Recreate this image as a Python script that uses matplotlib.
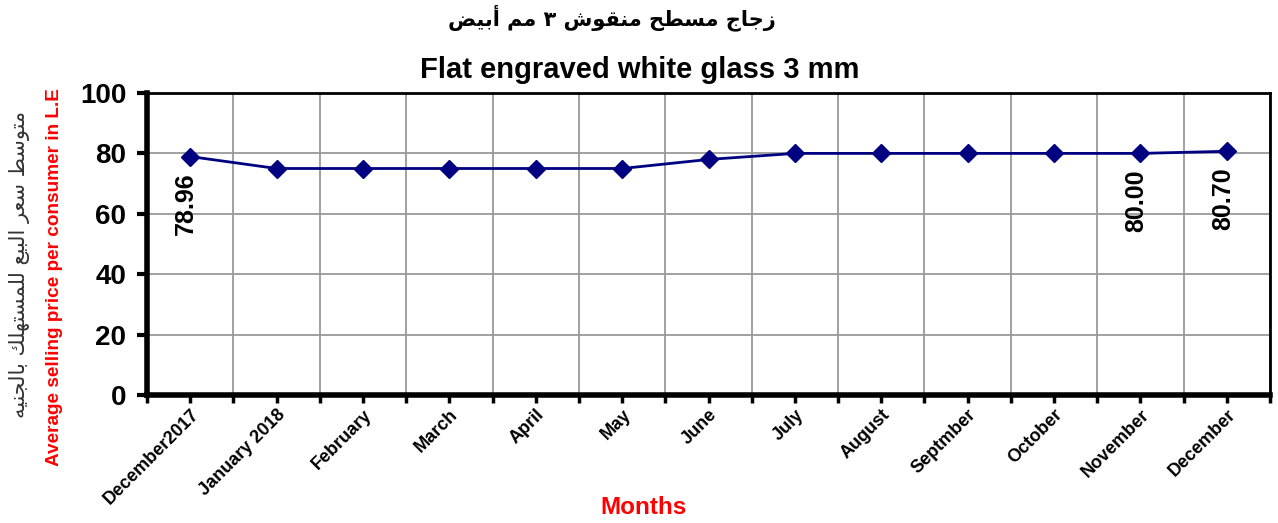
import matplotlib
matplotlib.use("Agg")
import matplotlib.pyplot as plt
from matplotlib.ticker import MultipleLocator, FixedLocator

# ---------------- data ----------------
months = ["December2017", "January 2018", "February", "March", "April", "May",
          "June", "July", "August", "Septmber", "October", "November", "December"]
prices = [78.96, 75, 75, 75, 75, 75, 78, 80, 80, 80, 80, 80, 80.70]
labelled_idx = [0, 11, 12]

title_ar = "زجاج مسطح منقوش ٣ مم أبيض"
title_en = "Flat engraved white glass 3 mm"
ylabel_en = "Average selling price per consumer in L.E"
ylabel_ar = "متوسط سعر البيع للمستهلك بالجنيه"
xlabel = "Months"

# ------------- minimal Arabic shaping (presentation forms) -------------
FORMS = {  # isolated, final, initial, medial
    'ا': ('\uFE8D', '\uFE8E', None, None),
    'أ': ('\uFE83', '\uFE84', None, None),
    'ب': ('\uFE8F', '\uFE90', '\uFE91', '\uFE92'),
    'ت': ('\uFE95', '\uFE96', '\uFE97', '\uFE98'),
    'ج': ('\uFE9D', '\uFE9E', '\uFE9F', '\uFEA0'),
    'ح': ('\uFEA1', '\uFEA2', '\uFEA3', '\uFEA4'),
    'ر': ('\uFEAD', '\uFEAE', None, None),
    'ز': ('\uFEAF', '\uFEB0', None, None),
    'س': ('\uFEB1', '\uFEB2', '\uFEB3', '\uFEB4'),
    'ش': ('\uFEB5', '\uFEB6', '\uFEB7', '\uFEB8'),
    'ض': ('\uFEBD', '\uFEBE', '\uFEBF', '\uFEC0'),
    'ط': ('\uFEC1', '\uFEC2', '\uFEC3', '\uFEC4'),
    'ع': ('\uFEC9', '\uFECA', '\uFECB', '\uFECC'),
    'ق': ('\uFED5', '\uFED6', '\uFED7', '\uFED8'),
    'ك': ('\uFED9', '\uFEDA', '\uFEDB', '\uFEDC'),
    'ل': ('\uFEDD', '\uFEDE', '\uFEDF', '\uFEE0'),
    'م': ('\uFEE1', '\uFEE2', '\uFEE3', '\uFEE4'),
    'ن': ('\uFEE5', '\uFEE6', '\uFEE7', '\uFEE8'),
    'ه': ('\uFEE9', '\uFEEA', '\uFEEB', '\uFEEC'),
    'و': ('\uFEED', '\uFEEE', None, None),
    'ي': ('\uFEF1', '\uFEF2', '\uFEF3', '\uFEF4'),
}


def shape_ar(s):
    out = []
    n = len(s)
    for i, ch in enumerate(s):
        if ch not in FORMS:
            out.append(ch)
            continue
        prev = s[i - 1] if i > 0 else None
        nxt = s[i + 1] if i < n - 1 else None
        jp = prev in FORMS and FORMS[prev][2] is not None
        jn = FORMS[ch][2] is not None and nxt in FORMS
        iso, fin, ini, med = FORMS[ch]
        if jp and jn:
            out.append(med)
        elif jp:
            out.append(fin)
        elif jn:
            out.append(ini)
        else:
            out.append(iso)
    return "".join(out)[::-1]


# ---------------- figure ----------------
plt.rcParams['font.family'] = ['Liberation Sans', 'DejaVu Sans']
fig = plt.figure(figsize=(12.78, 5.23), dpi=100)
ax = fig.add_axes([147 / 1278, 1 - 395 / 523, (1270 - 147) / 1278, (395 - 93) / 523])

x = list(range(len(months)))
ax.plot(x, prices, color='#000080', lw=2, marker='D', markersize=9,
        markerfacecolor='#000080', markeredgecolor='#000080', zorder=3)

ax.set_xlim(-0.5, len(months) - 0.5)
ax.set_ylim(0, 100)

# grid at category boundaries (vertical) and at y major ticks
ax.yaxis.set_major_locator(MultipleLocator(20))
ax.xaxis.set_major_locator(FixedLocator([i - 0.5 for i in range(len(months) + 1)]))
ax.set_xticklabels([])
ax.set_xticks(x, minor=True)
ax.set_xticklabels(months, minor=True, rotation=45, ha='right', va='top',
                   rotation_mode='anchor', fontsize=13, fontweight='bold')
ax.grid(True, which='major', color='#9a9a9a', lw=1.3)
ax.set_axisbelow(True)

ax.tick_params(axis='x', which='both', direction='out', length=6, width=2.5,
               color='black', pad=2)
ax.tick_params(axis='y', which='major', direction='out', length=7, width=3,
               labelsize=20, pad=8)
for lab in ax.get_yticklabels():
    lab.set_fontweight('bold')

for side in ('left', 'bottom'):
    ax.spines[side].set_linewidth(4)
for side in ('top', 'right'):
    ax.spines[side].set_linewidth(2)

# data labels
for i in labelled_idx:
    ax.annotate(f"{prices[i]:.2f}", (x[i], prices[i]), xytext=(-4, -16),
                textcoords='offset pixels', rotation=90, ha='center', va='top',
                fontsize=18, fontweight='bold')

# titles and labels
fig.text(612 / 1278, 1 - 18 / 523, shape_ar(title_ar), ha='center', va='center',
         fontsize=15, fontweight='bold', family=['DejaVu Sans'])
fig.text(640 / 1278, 1 - 70 / 523, title_en, ha='center', va='center',
         fontsize=21, fontweight='bold')
fig.text(55 / 1278, 1 - 277 / 523, ylabel_en, rotation=90, ha='center', va='center',
         fontsize=13.7, fontweight='bold', color='#ff0000')
fig.text(20 / 1278, 1 - 265 / 523, shape_ar(ylabel_ar), rotation=90, ha='center',
         va='center', fontsize=15, color='#333333', family=['DejaVu Sans'])
fig.text(643 / 1278, 1 - 507 / 523, xlabel, ha='center', va='center',
         fontsize=17.5, fontweight='bold', color='#ff0000')

fig.savefig("out.png", dpi=100)
